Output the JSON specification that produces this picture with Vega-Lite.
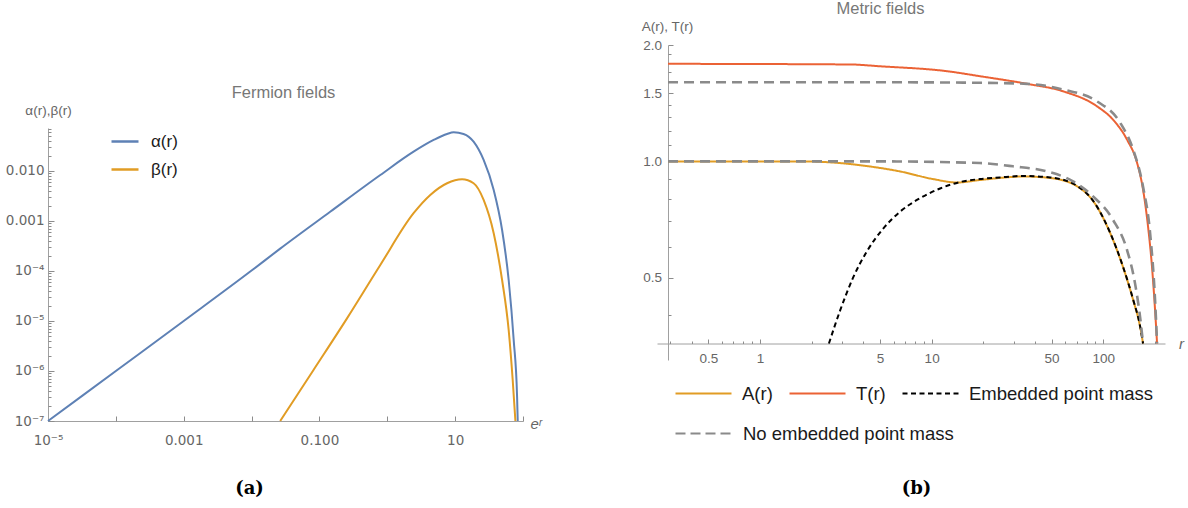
{
  "$schema": "https://vega.github.io/schema/vega-lite/v6.json",
  "width": 1188,
  "height": 508,
  "autosize": {"type": "none"},
  "padding": 0,
  "background": "white",
  "datasets": {
    "fermion": [
      {"x": 0.00001, "y": 0.0000001, "s": "α(r)"},
      {"x": 0.0001, "y": 0.000001, "s": "α(r)"},
      {"x": 0.001, "y": 0.00001, "s": "α(r)"},
      {"x": 0.01, "y": 0.000102, "s": "α(r)"},
      {"x": 0.0264, "y": 0.00028, "s": "α(r)"},
      {"x": 0.144, "y": 0.00153, "s": "α(r)"},
      {"x": 0.789, "y": 0.0083, "s": "α(r)"},
      {"x": 2.44, "y": 0.0243, "s": "α(r)"},
      {"x": 4.82, "y": 0.0417, "s": "α(r)"},
      {"x": 7.6, "y": 0.055, "s": "α(r)"},
      {"x": 9.51, "y": 0.0594, "s": "α(r)"},
      {"x": 13.3, "y": 0.055, "s": "α(r)"},
      {"x": 18.7, "y": 0.0385, "s": "α(r)"},
      {"x": 26.3, "y": 0.0166, "s": "α(r)"},
      {"x": 37.0, "y": 0.00417, "s": "α(r)"},
      {"x": 49.2, "y": 0.00066, "s": "α(r)"},
      {"x": 61.5, "y": 0.000066, "s": "α(r)"},
      {"x": 72.9, "y": 0.0000042, "s": "α(r)"},
      {"x": 81.8, "y": 0.00000031, "s": "α(r)"},
      {"x": 83.6, "y": 0.0000001, "s": "α(r)"},
      {"x": 0.0264, "y": 0.0000001, "s": "β(r)"},
      {"x": 0.0818, "y": 0.00000105, "s": "β(r)"},
      {"x": 0.255, "y": 0.0000113, "s": "β(r)"},
      {"x": 0.789, "y": 0.000132, "s": "β(r)"},
      {"x": 2.44, "y": 0.00143, "s": "β(r)"},
      {"x": 4.3, "y": 0.00331, "s": "β(r)"},
      {"x": 7.6, "y": 0.00568, "s": "β(r)"},
      {"x": 12.65, "y": 0.00682, "s": "β(r)"},
      {"x": 18.7, "y": 0.00568, "s": "β(r)"},
      {"x": 26.3, "y": 0.00263, "s": "β(r)"},
      {"x": 37.0, "y": 0.000568, "s": "β(r)"},
      {"x": 49.2, "y": 0.000066, "s": "β(r)"},
      {"x": 61.5, "y": 0.0000066, "s": "β(r)"},
      {"x": 70.5, "y": 0.00000066, "s": "β(r)"},
      {"x": 77.3, "y": 0.0000001, "s": "β(r)"}
    ],
    "metric": [
      {"x": 0.291, "y": 1.0, "s": "A(r)", "c": "A"},
      {"x": 1.71, "y": 1.0, "s": "A(r)", "c": "A"},
      {"x": 2.93, "y": 0.99, "s": "A(r)", "c": "A"},
      {"x": 4.38, "y": 0.97, "s": "A(r)", "c": "A"},
      {"x": 6.54, "y": 0.942, "s": "A(r)", "c": "A"},
      {"x": 10.2, "y": 0.9, "s": "A(r)", "c": "A"},
      {"x": 14.06, "y": 0.882, "s": "A(r)", "c": "A"},
      {"x": 19.1, "y": 0.895, "s": "A(r)", "c": "A"},
      {"x": 25.0, "y": 0.906, "s": "A(r)", "c": "A"},
      {"x": 34.1, "y": 0.914, "s": "A(r)", "c": "A"},
      {"x": 49.0, "y": 0.906, "s": "A(r)", "c": "A"},
      {"x": 70.4, "y": 0.862, "s": "A(r)", "c": "A"},
      {"x": 89.6, "y": 0.777, "s": "A(r)", "c": "A"},
      {"x": 109.5, "y": 0.654, "s": "A(r)", "c": "A"},
      {"x": 130.4, "y": 0.533, "s": "A(r)", "c": "A"},
      {"x": 149.4, "y": 0.438, "s": "A(r)", "c": "A"},
      {"x": 163.9, "y": 0.374, "s": "A(r)", "c": "A"},
      {"x": 170.6, "y": 0.338, "s": "A(r)", "c": "A"},
      {"x": 0.291, "y": 1.788, "s": "T(r)", "c": "T"},
      {"x": 3.35, "y": 1.781, "s": "T(r)", "c": "T"},
      {"x": 5.0, "y": 1.762, "s": "T(r)", "c": "T"},
      {"x": 12.3, "y": 1.711, "s": "T(r)", "c": "T"},
      {"x": 19.1, "y": 1.661, "s": "T(r)", "c": "T"},
      {"x": 36.0, "y": 1.587, "s": "T(r)", "c": "T"},
      {"x": 58.3, "y": 1.518, "s": "T(r)", "c": "T"},
      {"x": 92.0, "y": 1.388, "s": "T(r)", "c": "T"},
      {"x": 114.0, "y": 1.282, "s": "T(r)", "c": "T"},
      {"x": 137.6, "y": 1.138, "s": "T(r)", "c": "T"},
      {"x": 157.4, "y": 0.992, "s": "T(r)", "c": "T"},
      {"x": 170.6, "y": 0.845, "s": "T(r)", "c": "T"},
      {"x": 182.5, "y": 0.677, "s": "T(r)", "c": "T"},
      {"x": 192.4, "y": 0.533, "s": "T(r)", "c": "T"},
      {"x": 200.4, "y": 0.413, "s": "T(r)", "c": "T"},
      {"x": 205.9, "y": 0.338, "s": "T(r)", "c": "T"},
      {"x": 2.52, "y": 0.338, "s": "Embedded point mass", "c": "E"},
      {"x": 2.93, "y": 0.4116, "s": "Embedded point mass", "c": "E"},
      {"x": 3.48, "y": 0.4995, "s": "Embedded point mass", "c": "E"},
      {"x": 4.2, "y": 0.5856, "s": "Embedded point mass", "c": "E"},
      {"x": 5.21, "y": 0.6694, "s": "Embedded point mass", "c": "E"},
      {"x": 6.54, "y": 0.7409, "s": "Embedded point mass", "c": "E"},
      {"x": 8.56, "y": 0.8032, "s": "Embedded point mass", "c": "E"},
      {"x": 11.2, "y": 0.8508, "s": "Embedded point mass", "c": "E"},
      {"x": 14.6, "y": 0.8841, "s": "Embedded point mass", "c": "E"},
      {"x": 19.1, "y": 0.9, "s": "Embedded point mass", "c": "E"},
      {"x": 25.0, "y": 0.909, "s": "Embedded point mass", "c": "E"},
      {"x": 34.1, "y": 0.917, "s": "Embedded point mass", "c": "E"},
      {"x": 49.0, "y": 0.909, "s": "Embedded point mass", "c": "E"},
      {"x": 70.4, "y": 0.864, "s": "Embedded point mass", "c": "E"},
      {"x": 89.6, "y": 0.778, "s": "Embedded point mass", "c": "E"},
      {"x": 109.5, "y": 0.655, "s": "Embedded point mass", "c": "E"},
      {"x": 130.4, "y": 0.534, "s": "Embedded point mass", "c": "E"},
      {"x": 149.4, "y": 0.439, "s": "Embedded point mass", "c": "E"},
      {"x": 163.9, "y": 0.375, "s": "Embedded point mass", "c": "E"},
      {"x": 170.6, "y": 0.338, "s": "Embedded point mass", "c": "E"}
    ],
    "nopoint": [
      {"x": 0.291, "y": 1.602, "s": "No embedded point mass", "c": "T0"},
      {"x": 5.0, "y": 1.602, "s": "No embedded point mass", "c": "T0"},
      {"x": 19.1, "y": 1.597, "s": "No embedded point mass", "c": "T0"},
      {"x": 36.0, "y": 1.587, "s": "No embedded point mass", "c": "T0"},
      {"x": 58.3, "y": 1.534, "s": "No embedded point mass", "c": "T0"},
      {"x": 92.0, "y": 1.43, "s": "No embedded point mass", "c": "T0"},
      {"x": 125.3, "y": 1.26, "s": "No embedded point mass", "c": "T0"},
      {"x": 149.4, "y": 1.072, "s": "No embedded point mass", "c": "T0"},
      {"x": 170.6, "y": 0.86, "s": "No embedded point mass", "c": "T0"},
      {"x": 187.4, "y": 0.654, "s": "No embedded point mass", "c": "T0"},
      {"x": 200.4, "y": 0.438, "s": "No embedded point mass", "c": "T0"},
      {"x": 205.9, "y": 0.338, "s": "No embedded point mass", "c": "T0"},
      {"x": 0.291, "y": 1.0, "s": "No embedded point mass", "c": "A0"},
      {"x": 5.0, "y": 1.0, "s": "No embedded point mass", "c": "A0"},
      {"x": 19.1, "y": 0.99, "s": "No embedded point mass", "c": "A0"},
      {"x": 29.8, "y": 0.971, "s": "No embedded point mass", "c": "A0"},
      {"x": 47.0, "y": 0.942, "s": "No embedded point mass", "c": "A0"},
      {"x": 66.7, "y": 0.888, "s": "No embedded point mass", "c": "A0"},
      {"x": 87.2, "y": 0.812, "s": "No embedded point mass", "c": "A0"},
      {"x": 114.0, "y": 0.706, "s": "No embedded point mass", "c": "A0"},
      {"x": 137.6, "y": 0.59, "s": "No embedded point mass", "c": "A0"},
      {"x": 153.0, "y": 0.485, "s": "No embedded point mass", "c": "A0"},
      {"x": 163.9, "y": 0.396, "s": "No embedded point mass", "c": "A0"},
      {"x": 170.6, "y": 0.338, "s": "No embedded point mass", "c": "A0"}
    ]
  },
  "layer": [
    {
      "data": {"name": "fermion"},
      "mark": {"type": "line", "strokeWidth": 2, "interpolate": "monotone"},
      "encoding": {
        "x": {"field": "x", "type": "quantitative",
          "scale": {"type": "log", "domain": [0.00001, 100], "range": [48, 523]},
          "axis": {"orient": "bottom", "offset": -87, "values": [0.00001, 0.001, 0.1, 10],
            "labelExpr": "datum.value < 0.00002 ? '10⁻⁵' : datum.value < 0.002 ? '0.001' : datum.value < 0.2 ? '0.100' : '10'",
            "labelFont": "DejaVu Sans", "labelFontSize": 13.5,
            "tickSize": -5, "labelPadding": 17,
            "title": "eʳ", "titleX": 530, "titleY": 2, "titleAlign": "left", "titleBaseline": "middle",
            "titleFontStyle": "italic", "titleFontSize": 15}},
        "y": {"field": "y", "type": "quantitative",
          "scale": {"type": "log", "domain": [0.0000001, 0.0724], "range": [421, 128]},
          "axis": {"orient": "left", "offset": -48, "values": [0.0000001, 0.000001, 0.00001, 0.0001, 0.001, 0.01],
            "labelExpr": "datum.value < 2e-7 ? '10⁻⁷' : datum.value < 2e-6 ? '10⁻⁶' : datum.value < 2e-5 ? '10⁻⁵' : datum.value < 2e-4 ? '10⁻⁴' : datum.value < 0.002 ? '0.001' : '0.010'",
            "labelFont": "DejaVu Sans", "labelFontSize": 13.5,
            "tickSize": -6, "labelPadding": 10,
            "title": "α(r),β(r)", "titleAngle": 0, "titleX": 0, "titleY": 110, "titleAlign": "center", "titleBaseline": "middle",
            "titleFontSize": 13.5}},
        "color": {"field": "s", "type": "nominal",
          "scale": {"domain": ["α(r)", "β(r)"], "range": ["#5E81B5", "#E19C24"]},
          "legend": {"orient": "none", "legendX": 110, "legendY": 126.5, "title": null,
            "symbolType": "stroke", "symbolSize": 729, "symbolStrokeWidth": 2.5,
            "labelFontSize": 17, "labelColor": "#1a1a1a", "labelFont": "Liberation Sans",
            "labelOffset": 11, "rowPadding": 5, "padding": 0}}
      }
    },
    {
      "data": {"name": "fermion"},
      "mark": {"type": "line", "opacity": 0},
      "encoding": {
        "x": {"field": "x", "type": "quantitative",
          "scale": {"type": "log", "domain": [0.00001, 100], "range": [48, 523]},
          "axis": {"orient": "bottom", "offset": -87, "values": [0.0001, 0.01, 1, 100],
            "labels": false, "domain": false, "tickSize": -5,
            "title": "(a)", "titleX": 249, "titleY": 67, "titleAlign": "center", "titleBaseline": "middle",
            "titleFont": "DejaVu Serif", "titleFontWeight": "bold", "titleFontSize": 18, "titleColor": "#000000"}},
        "y": {"field": "y", "type": "quantitative",
          "scale": {"type": "log", "domain": [0.0000001, 0.0724], "range": [421, 128]},
          "axis": {"orient": "left", "offset": -48,
            "values": [2e-7, 3e-7, 4e-7, 5e-7, 6e-7, 7e-7, 8e-7, 9e-7, 2e-6, 3e-6, 4e-6, 5e-6, 6e-6, 7e-6, 8e-6, 9e-6, 2e-5, 3e-5, 4e-5, 5e-5, 6e-5, 7e-5, 8e-5, 9e-5, 2e-4, 3e-4, 4e-4, 5e-4, 6e-4, 7e-4, 8e-4, 9e-4, 0.002, 0.003, 0.004, 0.005, 0.006, 0.007, 0.008, 0.009, 0.02, 0.03, 0.04, 0.05, 0.06, 0.07],
            "labels": false, "domain": false, "tickSize": -3,
            "title": "Fermion fields", "titleAngle": 0, "titleX": 235, "titleY": 92, "titleAlign": "center", "titleBaseline": "middle",
            "titleFontSize": 16.5, "titleColor": "#777777"}}
      }
    },
    {
      "data": {"name": "metric"},
      "mark": {"type": "line", "interpolate": "monotone", "strokeWidth": 2},
      "encoding": {
        "x": {"field": "x", "type": "quantitative",
          "scale": {"type": "log", "domain": [0.251, 229], "range": [657, 1165]},
          "axis": {"orient": "bottom", "offset": -164.5, "values": [0.5, 1, 5, 10, 50, 100], "format": "~g",
            "tickSize": -4.5, "labelPadding": 12.5,
            "title": "r", "titleX": 1181, "titleY": 0, "titleAlign": "center", "titleBaseline": "middle",
            "titleFontStyle": "italic", "titleFontSize": 15}},
        "y": {"field": "y", "type": "quantitative",
          "scale": {"type": "log", "domain": [0.3064, 2.0], "range": [360, 45]},
          "axis": {"orient": "left", "offset": -668, "values": [0.5, 1, 1.5, 2], "format": ".1f",
            "tickSize": -5, "labelPadding": 11.5,
            "title": "A(r), T(r)", "titleAngle": 0, "titleX": -1, "titleY": 26, "titleAlign": "center", "titleBaseline": "middle",
            "titleFontSize": 13.5}},
        "color": {"field": "s", "type": "nominal",
          "scale": {"domain": ["A(r)", "T(r)", "Embedded point mass"],
            "range": ["#E19C24", "#EB6235", "#000000"]},
          "legend": {"orient": "none", "legendX": 674, "legendY": 364, "title": null, "direction": "horizontal",
            "symbolType": "stroke", "symbolSize": 3136, "symbolStrokeWidth": 2.2,
            "labelFontSize": 18.5, "labelColor": "#1a1a1a", "labelFont": "Liberation Sans", "labelLimit": 0,
            "labelOffset": 9, "columnPadding": 12, "padding": 0}},
        "strokeDash": {"field": "s", "type": "nominal",
          "scale": {"domain": ["A(r)", "T(r)", "Embedded point mass"],
            "range": [[1, 0], [1, 0], [5, 3.5]]}}
      }
    },
    {
      "data": {"name": "nopoint"},
      "mark": {"type": "line", "interpolate": "monotone", "strokeWidth": 2.6},
      "encoding": {
        "x": {"field": "x", "type": "quantitative",
          "scale": {"type": "log", "domain": [0.251, 229], "range": [657, 1165]}, "axis": null},
        "y": {"field": "y", "type": "quantitative",
          "scale": {"type": "log", "domain": [0.3064, 2.0], "range": [360, 45]}, "axis": null},
        "detail": {"field": "c", "type": "nominal"},
        "color": {"field": "s", "type": "nominal",
          "scale": {"domain": ["No embedded point mass"], "range": ["#8a8a8a"]},
          "legend": {"orient": "none", "legendX": 674, "legendY": 404, "title": null, "direction": "horizontal",
            "symbolType": "stroke", "symbolSize": 3136, "symbolStrokeWidth": 2.2, "symbolDash": [10, 5],
            "labelFontSize": 18.5, "labelColor": "#1a1a1a", "labelFont": "Liberation Sans", "labelLimit": 0,
            "labelOffset": 10, "padding": 0}},
        "strokeDash": {"value": [10, 6]}
      }
    },
    {
      "data": {"name": "metric"},
      "mark": {"type": "line", "opacity": 0},
      "encoding": {
        "x": {"field": "x", "type": "quantitative",
          "scale": {"type": "log", "domain": [0.251, 229], "range": [657, 1165]},
          "axis": {"orient": "bottom", "offset": -164.5,
            "values": [0.3, 0.4, 0.6, 0.7, 0.8, 0.9, 2, 3, 4, 6, 7, 8, 9, 20, 30, 40, 60, 70, 80, 90, 200],
            "labels": false, "domain": false, "tickSize": -2.5,
            "title": "(b)", "titleX": 916, "titleY": 144.5, "titleAlign": "center", "titleBaseline": "middle",
            "titleFont": "DejaVu Serif", "titleFontWeight": "bold", "titleFontSize": 18, "titleColor": "#000000"}},
        "y": {"field": "y", "type": "quantitative",
          "scale": {"type": "log", "domain": [0.3064, 2.0], "range": [360, 45]},
          "axis": {"orient": "left", "offset": -668,
            "values": [0.4, 0.6, 0.7, 0.8, 0.9, 1.1, 1.2, 1.3, 1.4, 1.6, 1.7, 1.8, 1.9],
            "labels": false, "domain": false, "tickSize": -3,
            "title": "Metric fields", "titleAngle": 0, "titleX": 212, "titleY": 8, "titleAlign": "center", "titleBaseline": "middle",
            "titleFontSize": 16.5, "titleColor": "#777777"}}
      }
    }
  ],
  "resolve": {
    "scale": {"x": "independent", "y": "independent", "color": "independent", "strokeDash": "independent"},
    "axis": {"x": "independent", "y": "independent"},
    "legend": {"color": "independent", "strokeDash": "independent"}
  },
  "config": {
    "view": {"stroke": null},
    "axis": {
      "grid": false,
      "labelFont": "Liberation Sans",
      "titleFont": "Liberation Sans",
      "labelFontSize": 13.5,
      "labelColor": "#666666",
      "titleColor": "#666666",
      "titleFontWeight": "normal",
      "domainColor": "#a0a0a0",
      "tickColor": "#8c8c8c",
      "tickWidth": 1,
      "labelFlush": false,
      "labelOverlap": false,
      "labelBound": false
    }
  }
}
